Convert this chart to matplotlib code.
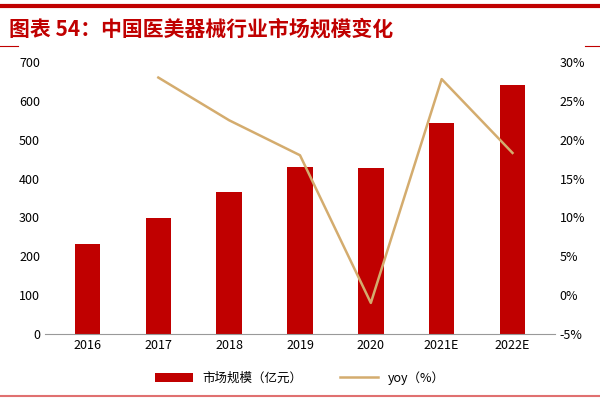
import matplotlib.pyplot as plt

plt.rcParams['font.family'] = ['Noto Sans CJK SC', 'DejaVu Sans']

years = ["2016", "2017", "2018", "2019", "2020", "2021E", "2022E"]
market = [232, 298, 365, 430, 427, 543, 642]
yoy_years = ["2017", "2018", "2019", "2020", "2021E", "2022E"]
yoy = [28.0, 22.5, 18.0, -1.0, 27.8, 18.3]

fig = plt.figure(figsize=(6, 4), dpi=100)
ax = fig.add_axes([0.075, 0.165, 0.85, 0.68])
x = list(range(len(years)))
ax.bar(x, market, width=0.36, color="#c00000", label="市场规模（亿元）")
ax.set_ylim(0, 700)
ax.set_yticks(range(0, 701, 100))
ax.set_xticks(x, years)
ax.set_xlim(-0.6, len(years) - 0.4)
for s in ["top", "right", "left"]:
    ax.spines[s].set_visible(False)
ax.spines["bottom"].set_color("#999999")
ax.tick_params(length=0, labelsize=9)

ax2 = ax.twinx()
xi = [years.index(y) for y in yoy_years]
ax2.plot(xi, yoy, color="#d4ac6e", linewidth=1.8, label="yoy（%）")
ax2.set_ylim(-5, 30)
ax2.set_yticks(range(-5, 31, 5))
ax2.set_yticklabels([f"{v}%" for v in range(-5, 31, 5)])
for s in ["top", "right", "left", "bottom"]:
    ax2.spines[s].set_visible(False)
ax2.tick_params(length=0, labelsize=9)

h1, l1 = ax.get_legend_handles_labels()
h2, l2 = ax2.get_legend_handles_labels()
fig.legend(h1 + h2, l1 + l2, loc="center", bbox_to_anchor=(0.5, 0.055), ncol=2,
           frameon=False, fontsize=9, handlelength=3, columnspacing=3)

fig.text(0.015, 0.91, "图表 54：中国医美器械行业市场规模变化", color="#c00000",
         fontsize=15, fontweight="bold", style="italic")
fig.add_artist(plt.Line2D([0, 1], [0.985, 0.985], color="#c00000", linewidth=3))
fig.add_artist(plt.Line2D([0, 0.03], [0.885, 0.885], color="#c00000", linewidth=0.8))
fig.add_artist(plt.Line2D([0.975, 1], [0.885, 0.885], color="#c00000", linewidth=0.8))
fig.add_artist(plt.Line2D([0, 1], [0.01, 0.01], color="#e07070", linewidth=1.5))

fig.savefig("out.png", dpi=100)
